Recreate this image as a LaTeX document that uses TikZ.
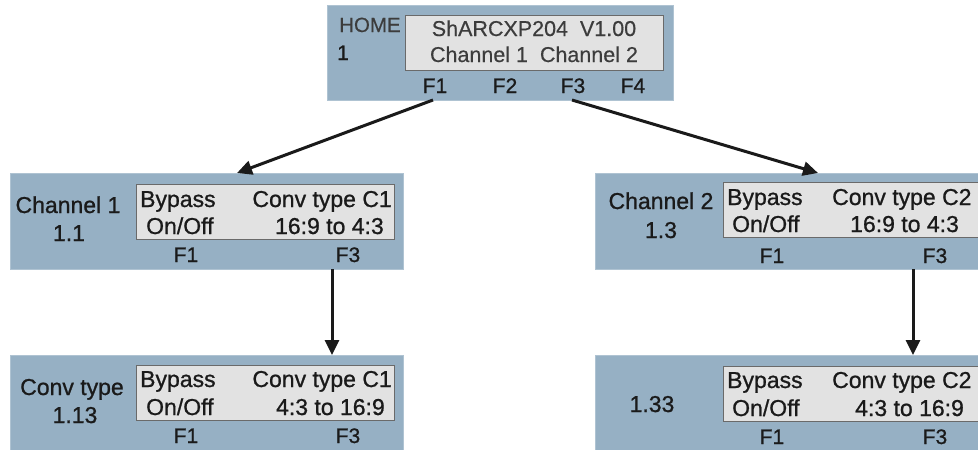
\documentclass[tikz,border=0pt]{standalone}
\usepackage{fontspec}
\setmainfont{Liberation Sans}
\newfontfamily\heavyfont[FakeBold=0.9]{Liberation Sans}
\newfontfamily\lightheavy[FakeBold=0.4]{Liberation Sans}
\usetikzlibrary{arrows.meta}
\definecolor{panel}{HTML}{96B0C4}
\definecolor{paneledge}{HTML}{AFC3D2}
\definecolor{lcd}{HTML}{E2E2E2}
\definecolor{lcdline}{HTML}{6A6A6A}
\definecolor{lcdtext}{HTML}{3C3C3C}
\definecolor{ink}{HTML}{1A1A1A}
\tikzset{
  panelbox/.style={fill=panel, draw=paneledge, line width=0.8pt, inner sep=0pt, anchor=north west},
  lcdbox/.style={fill=lcd, draw=lcdline, line width=1.2pt, inner sep=0pt, anchor=north west},
  lbl/.style={inner sep=0pt, text=ink, font=\heavyfont\fontsize{23}{27}\selectfont},
  toplbl/.style={inner sep=0pt, text=lcdtext, font=\lightheavy\fontsize{21.5}{25}\selectfont},
  fkey/.style={inner sep=0pt, text=ink, anchor=base, font=\heavyfont\fontsize{21}{25}\selectfont},
  arr/.style={line width=3pt, draw=ink, -{Triangle[length=15pt,width=14pt]}},
}
\begin{document}
\begin{tikzpicture}[x=1pt,y=-1pt]
\useasboundingbox (0,0) rectangle (978,450);
\clip (0,0) rectangle (978,450);
\fill[white] (0,0) rectangle (978,450);

% ---------- top (HOME) ----------
\node[panelbox, minimum width=346pt, minimum height=95pt] (top) at (327,5) {};
\node[lcdbox, minimum width=258pt, minimum height=55pt] (topd) at (405,15) {};
\node[inner sep=0pt, anchor=base west, text=ink!85, font=\lightheavy\fontsize{20.5}{24}\selectfont] (thome) at (339,32) {HOME};
\node[inner sep=0pt, anchor=base west, text=ink, font=\heavyfont\fontsize{21}{24}\selectfont] (tone) at (337,60) {1};
\node[toplbl, anchor=base] (tl1) at (534,36) {ShARCXP204\ \ V1.00};
\node[toplbl, anchor=base] (tl2) at (534,62) {Channel 1\ \ Channel 2};
\node[fkey] (tF1) at (435,93) {F1};
\node[fkey] (tF2) at (505,93) {F2};
\node[fkey] (tF3) at (573,93) {F3};
\node[fkey] (tF4) at (633,93) {F4};

% ---------- Channel 1 ----------
\node[panelbox, minimum width=393pt, minimum height=96pt] (ch1) at (10,173) {};
\node[lcdbox, minimum width=258pt, minimum height=55pt] (ch1d) at (136,184) {};
\node[lbl, anchor=base] (ch1a) at (68,213) {Channel 1};
\node[lbl, anchor=base] (ch1b) at (69,241) {1.1};
\node[lbl, anchor=base west] (ch1c) at (140,207) {Bypass};
\node[lbl, anchor=base west] (ch1d1) at (146,234) {On/Off};
\node[lbl, anchor=base east] (ch1e) at (392,207) {Conv type C1};
\node[lbl, anchor=base east] (ch1f) at (384,234) {16:9 to 4:3};
\node[fkey] (ch1F1) at (186,262) {F1};
\node[fkey] (ch1F3) at (348,262) {F3};

% ---------- Channel 2 ----------
\node[panelbox, minimum width=393pt, minimum height=96pt] (ch2) at (595,173) {};
\node[lcdbox, minimum width=258pt, minimum height=55pt] (ch2d) at (723,182) {};
\node[lbl, anchor=base] (ch2a) at (661,209) {Channel 2};
\node[lbl, anchor=base] (ch2b) at (661,238) {1.3};
\node[lbl, anchor=base west] (ch2c) at (727,205) {Bypass};
\node[lbl, anchor=base west] (ch2d1) at (732,232) {On/Off};
\node[lbl, anchor=base west] (ch2e) at (832,205) {Conv type C2};
\node[lbl, anchor=base west] (ch2f) at (850,232) {16:9 to 4:3};
\node[fkey] (ch2F1) at (772,263) {F1};
\node[fkey] (ch2F3) at (935,263) {F3};

% ---------- Conv type 1.13 ----------
\node[panelbox, minimum width=393pt, minimum height=96pt] (cv1) at (10,355) {};
\node[lcdbox, minimum width=258pt, minimum height=55pt] (cv1d) at (136,365) {};
\node[lbl, anchor=base] (cv1a) at (72,395) {Conv type};
\node[lbl, anchor=base] (cv1b) at (75,423) {1.13};
\node[lbl, anchor=base west] (cv1c) at (140,387) {Bypass};
\node[lbl, anchor=base west] (cv1d1) at (146,415) {On/Off};
\node[lbl, anchor=base east] (cv1e) at (392,387) {Conv type C1};
\node[lbl, anchor=base east] (cv1f) at (385,415) {4:3 to 16:9};
\node[fkey] (cv1F1) at (186,443) {F1};
\node[fkey] (cv1F3) at (348,443) {F3};

% ---------- 1.33 ----------
\node[panelbox, minimum width=393pt, minimum height=96pt] (cv2) at (595,355) {};
\node[lcdbox, minimum width=258pt, minimum height=55pt] (cv2d) at (723,366) {};
\node[lbl, anchor=base] (cv2a) at (652,412) {1.33};
\node[lbl, anchor=base west] (cv2c) at (727,388) {Bypass};
\node[lbl, anchor=base west] (cv2d1) at (732,416) {On/Off};
\node[lbl, anchor=base west] (cv2e) at (832,388) {Conv type C2};
\node[lbl, anchor=base west] (cv2f) at (855,416) {4:3 to 16:9};
\node[fkey] (cv2F1) at (772,444) {F1};
\node[fkey] (cv2F3) at (935,444) {F3};

% ---------- connectors ----------
\coordinate (a1s) at (433,100);
\coordinate (a1e) at (237,173);
\coordinate (a2s) at (572,100);
\coordinate (a2e) at (818,173);
\coordinate (a3s) at (332,269);
\coordinate (a3e) at (332,355);
\coordinate (a4s) at (913,269);
\coordinate (a4e) at (913,355);
\draw[arr] (a1s) -- (a1e);
\draw[arr] (a2s) -- (a2e);
\draw[arr] (a3s) -- (a3e);
\draw[arr] (a4s) -- (a4e);
\end{tikzpicture}
\end{document}
